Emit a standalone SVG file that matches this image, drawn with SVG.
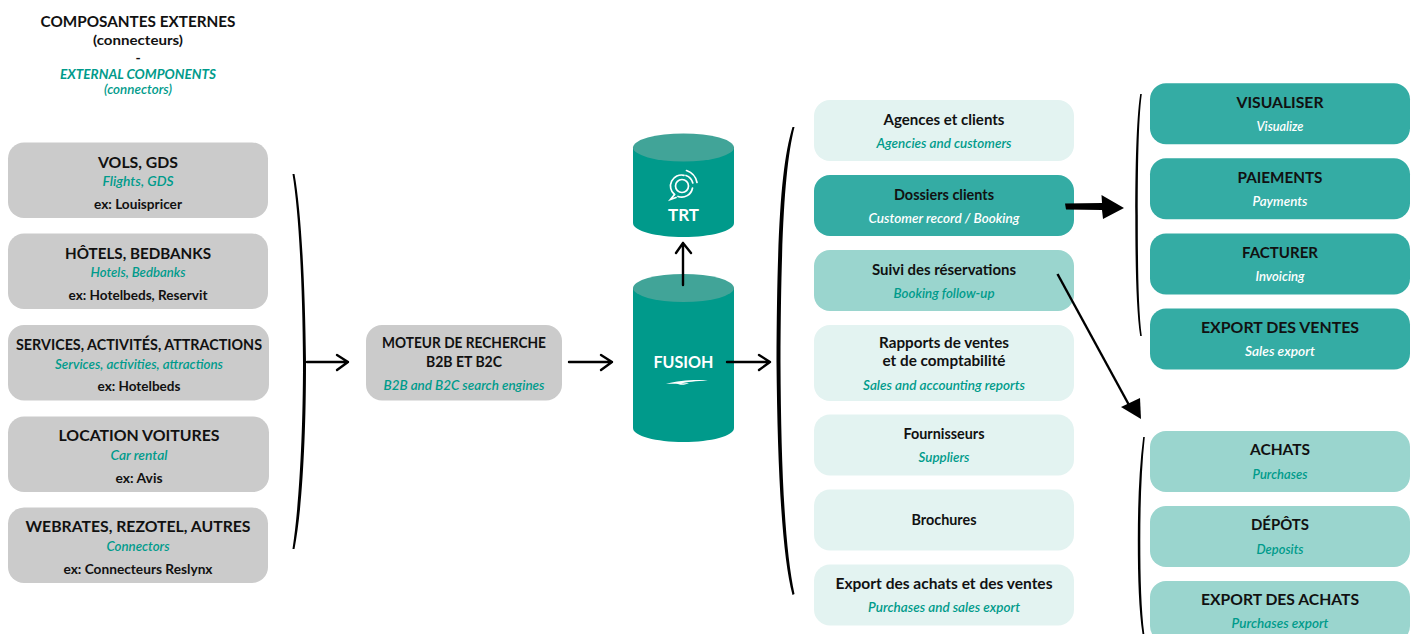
<svg xmlns="http://www.w3.org/2000/svg" width="1414" height="634" viewBox="0 0 1414 634">
<style>
text{font-family:Lato,"Open Sans","Liberation Sans",sans-serif;text-anchor:middle;fill:#111;font-weight:700;font-size:14px}
.h{font-size:15px;font-weight:700}
.i{font-style:italic;font-size:13px;fill:#009b8b;font-weight:600}
.w{fill:#fff}
.grey{fill:#cbcbcb}.dark{fill:#34aca4}.mid{fill:#9ad5ce}.pale{fill:#e3f3f1}
.line{fill:none;stroke:#000;stroke-width:2.400;stroke-linecap:round;stroke-linejoin:round}
.brace{fill:#000;stroke:none}
.cyl{fill:#009a8b}.top{fill:#41a498}
.ic{fill:none;stroke:#fff;stroke-width:1.700;stroke-linecap:round}
</style>
<rect width="1414" height="634" fill="#fff"/>

<g id="title">
<text class="h" x="138" y="26.500" textLength="195" lengthAdjust="spacingAndGlyphs">COMPOSANTES EXTERNES</text>
<text x="138" y="45" textLength="90" lengthAdjust="spacingAndGlyphs">(connecteurs)</text>
<text x="138" y="63">-</text>
<text class="i" x="138" y="79" textLength="156" lengthAdjust="spacingAndGlyphs" style="font-weight:700">EXTERNAL COMPONENTS</text>
<text class="i" x="138" y="94" textLength="68" lengthAdjust="spacingAndGlyphs">(connectors)</text>
</g>

<g id="vols"><rect class="grey" x="8" y="142.500" width="260" height="75.500" rx="16"/>
<text class="h" x="138" y="167.500" textLength="80" lengthAdjust="spacingAndGlyphs">VOLS, GDS</text>
<text class="i" x="138" y="186" textLength="71" lengthAdjust="spacingAndGlyphs">Flights, GDS</text>
<text x="138" y="209" textLength="88" lengthAdjust="spacingAndGlyphs">ex: Louispricer</text></g>

<g id="hotels"><rect class="grey" x="8" y="233.500" width="260" height="75.500" rx="16"/>
<text class="h" x="138" y="258.500" textLength="146" lengthAdjust="spacingAndGlyphs">HÔTELS, BEDBANKS</text>
<text class="i" x="138" y="277" textLength="95" lengthAdjust="spacingAndGlyphs">Hotels, Bedbanks</text>
<text x="138" y="300" textLength="139" lengthAdjust="spacingAndGlyphs">ex: Hotelbeds, Reservit</text></g>

<g id="services"><rect class="grey" x="8" y="325" width="261" height="75.500" rx="16"/>
<text class="h" x="139" y="350" textLength="246" lengthAdjust="spacingAndGlyphs">SERVICES, ACTIVITÉS, ATTRACTIONS</text>
<text class="i" x="139" y="368.500" textLength="168" lengthAdjust="spacingAndGlyphs">Services, activities, attractions</text>
<text x="139" y="391" textLength="83" lengthAdjust="spacingAndGlyphs">ex: Hotelbeds</text></g>

<g id="location"><rect class="grey" x="8" y="416.500" width="261" height="75.500" rx="16"/>
<text class="h" x="139" y="441" textLength="161" lengthAdjust="spacingAndGlyphs">LOCATION VOITURES</text>
<text class="i" x="139" y="459.500" textLength="57" lengthAdjust="spacingAndGlyphs">Car rental</text>
<text x="139" y="482.500" textLength="47" lengthAdjust="spacingAndGlyphs">ex: Avis</text></g>

<g id="webrates"><rect class="grey" x="8" y="507.500" width="260" height="75.500" rx="16"/>
<text class="h" x="138" y="532" textLength="225" lengthAdjust="spacingAndGlyphs">WEBRATES, REZOTEL, AUTRES</text>
<text class="i" x="138" y="550.500" textLength="63" lengthAdjust="spacingAndGlyphs">Connectors</text>
<text x="138" y="574" textLength="149" lengthAdjust="spacingAndGlyphs">ex: Connecteurs Reslynx</text></g>

<g id="moteur"><rect class="grey" x="366" y="325" width="196" height="75.500" rx="16"/>
<text class="h" x="464" y="348" textLength="164" lengthAdjust="spacingAndGlyphs">MOTEUR DE RECHERCHE</text>
<text class="h" x="464" y="367" textLength="76" lengthAdjust="spacingAndGlyphs">B2B ET B2C</text>
<text class="i" x="464" y="389.500" textLength="161" lengthAdjust="spacingAndGlyphs">B2B and B2C search engines</text></g>

<g id="trt">
<path class="cyl" d="M633 147V223C633 231 656 237 683.500 237S734 231 734 223V147Z"/>
<ellipse class="top" cx="683.500" cy="147.500" rx="50.500" ry="14"/>
<circle class="ic" cx="682" cy="186" r="6.500"/>
<path class="ic" d="M684 175.300A11 11 0 0 0 674.500 194.500M678 196.500A11 11 0 0 0 692.500 188"/>
<path class="ic" d="M674.500 194.500L670.500 199.500 676 197.500"/>
<path class="ic" d="M686.500 170.500A16 16 0 0 1 697 182.500M686 175.500A11 11 0 0 1 692.800 183"/>
<text class="h w" x="683.500" y="221" textLength="31" lengthAdjust="spacingAndGlyphs" style="font-size:17px">TRT</text>
</g>

<g id="fusioh">
<path class="cyl" d="M633 288V428C633 436 656 442 683.500 442S734 436 734 428V288Z"/>
<ellipse class="top" cx="683.500" cy="288" rx="50.500" ry="14"/>
<text class="h w" x="683.500" y="367.500" textLength="60" lengthAdjust="spacingAndGlyphs" style="font-size:17px">FUSIOH</text>
<path d="M666 384C678 380.500 696 379.300 708 380.500C696 381 686 382 681 383.500L689 383C686 385 680 385.300 678 384C674 383.500 670 384 666 384Z" fill="#fff"/>
</g>

<g id="agences"><rect class="pale" x="814" y="100" width="260" height="61" rx="16"/>
<text class="h" x="944" y="124.500" textLength="121" lengthAdjust="spacingAndGlyphs">Agences et clients</text>
<text class="i" x="944" y="147.500" textLength="135" lengthAdjust="spacingAndGlyphs">Agencies and customers</text></g>

<g id="dossiers"><rect class="dark" x="814" y="175" width="260" height="61" rx="16"/>
<text class="h" x="944" y="199.500" textLength="100" lengthAdjust="spacingAndGlyphs">Dossiers clients</text>
<text class="i w" x="944" y="222.500" textLength="151" lengthAdjust="spacingAndGlyphs">Customer record / Booking</text></g>

<g id="suivi"><rect class="mid" x="814" y="250" width="260" height="61" rx="16"/>
<text class="h" x="944" y="274.500" textLength="144" lengthAdjust="spacingAndGlyphs">Suivi des réservations</text>
<text class="i" x="944" y="297.500" textLength="101" lengthAdjust="spacingAndGlyphs">Booking follow-up</text></g>

<g id="rapports"><rect class="pale" x="814" y="325" width="260" height="76" rx="16"/>
<text class="h" x="944" y="347.500" textLength="130" lengthAdjust="spacingAndGlyphs">Rapports de ventes</text>
<text class="h" x="944" y="366" textLength="123" lengthAdjust="spacingAndGlyphs">et de comptabilité</text>
<text class="i" x="944" y="389.500" textLength="162" lengthAdjust="spacingAndGlyphs">Sales and accounting reports</text></g>

<g id="fournisseurs"><rect class="pale" x="814" y="414.500" width="260" height="61" rx="16"/>
<text class="h" x="944" y="438.500" textLength="81" lengthAdjust="spacingAndGlyphs">Fournisseurs</text>
<text class="i" x="944" y="461.500" textLength="51" lengthAdjust="spacingAndGlyphs">Suppliers</text></g>

<g id="brochures"><rect class="pale" x="814" y="489.500" width="260" height="61" rx="16"/>
<text class="h" x="944" y="525" textLength="65" lengthAdjust="spacingAndGlyphs">Brochures</text></g>

<g id="export-achats-ventes"><rect class="pale" x="814" y="564.500" width="260" height="61" rx="16"/>
<text class="h" x="944" y="588.500" textLength="217" lengthAdjust="spacingAndGlyphs">Export des achats et des ventes</text>
<text class="i" x="944" y="611.500" textLength="152" lengthAdjust="spacingAndGlyphs">Purchases and sales export</text></g>

<g id="visualiser"><rect class="dark" x="1150" y="83.300" width="260" height="61" rx="16"/>
<text class="h" x="1280" y="107.500" textLength="87" lengthAdjust="spacingAndGlyphs">VISUALISER</text>
<text class="i w" x="1280" y="130.500" textLength="47" lengthAdjust="spacingAndGlyphs">Visualize</text></g>

<g id="paiements"><rect class="dark" x="1150" y="158.300" width="260" height="61" rx="16"/>
<text class="h" x="1280" y="182.500" textLength="85" lengthAdjust="spacingAndGlyphs">PAIEMENTS</text>
<text class="i w" x="1280" y="205.500" textLength="55" lengthAdjust="spacingAndGlyphs">Payments</text></g>

<g id="facturer"><rect class="dark" x="1150" y="233.500" width="260" height="61" rx="16"/>
<text class="h" x="1280" y="257.500" textLength="76" lengthAdjust="spacingAndGlyphs">FACTURER</text>
<text class="i w" x="1280" y="280.500" textLength="49" lengthAdjust="spacingAndGlyphs">Invoicing</text></g>

<g id="export-ventes"><rect class="dark" x="1150" y="308.500" width="260" height="61" rx="16"/>
<text class="h" x="1280" y="332.500" textLength="158" lengthAdjust="spacingAndGlyphs">EXPORT DES VENTES</text>
<text class="i w" x="1280" y="355.500" textLength="70" lengthAdjust="spacingAndGlyphs">Sales export</text></g>

<g id="achats"><rect class="mid" x="1150" y="431" width="260" height="61" rx="16"/>
<text class="h" x="1280" y="454.500" textLength="60" lengthAdjust="spacingAndGlyphs">ACHATS</text>
<text class="i" x="1280" y="478.500" textLength="55" lengthAdjust="spacingAndGlyphs">Purchases</text></g>

<g id="depots"><rect class="mid" x="1150" y="506" width="260" height="61" rx="16"/>
<text class="h" x="1280" y="529.500" textLength="58" lengthAdjust="spacingAndGlyphs">DÉPÔTS</text>
<text class="i" x="1280" y="553.500" textLength="47" lengthAdjust="spacingAndGlyphs">Deposits</text></g>

<g id="export-achats"><rect class="mid" x="1150" y="581" width="260" height="61" rx="16"/>
<text class="h" x="1280" y="604.500" textLength="158" lengthAdjust="spacingAndGlyphs">EXPORT DES ACHATS</text>
<text class="i" x="1280" y="627.500" textLength="97" lengthAdjust="spacingAndGlyphs">Purchases export</text></g>

<g id="connectors">
<path class="brace" d="M292.500 174L294.500 174C301 210 305 280 306 362C306 440 302 510 294.500 549L292.500 549C298.500 510 303 440 303 362C302.500 280 298.500 210 292.500 174Z"/>
<path class="line" d="M307 362H348M337 355L348 362 337 370"/>
<path class="line" d="M569 362H612M601 355L612 362 601 370"/>
<path class="line" d="M683 285V243M676 253L683 243 691 253"/>
<path class="line" d="M727 362H770M759 355L770 362 759 370"/>
<path class="brace" d="M792.500 127L794.500 127C785 165 781 230 780.500 362C781 470 785 550 794.500 594L792.500 595C782 555 777.500 470 776.500 362C777 230 781 165 792.500 127Z"/>
<path class="brace" d="M1140.200 94L1141.800 94C1138.300 120 1137.800 170 1137.800 215C1137.800 265 1138.300 310 1141.800 336L1140.200 336C1136.300 310 1135.300 265 1135.300 215C1135.300 170 1136.300 120 1140.200 94Z"/>
<path class="brace" d="M1143.200 437L1144.800 437C1141.300 470 1140.300 505 1140.300 540C1140.300 580 1141.300 610 1144.300 634L1142.500 634C1139 610 1137.800 580 1137.800 540C1137.800 505 1139 470 1143.200 437Z"/>
<path class="brace" d="M1065 203.500L1102 203 1101.500 195 1124 208 1103 219 1102 210 1066 209.500Z"/>
<path fill="none" stroke="#000" stroke-width="2.400" d="M1057.500 274L1129 405"/>
<path class="brace" d="M1141 419L1121 407 1140 398Z"/>
</g>
</svg>
